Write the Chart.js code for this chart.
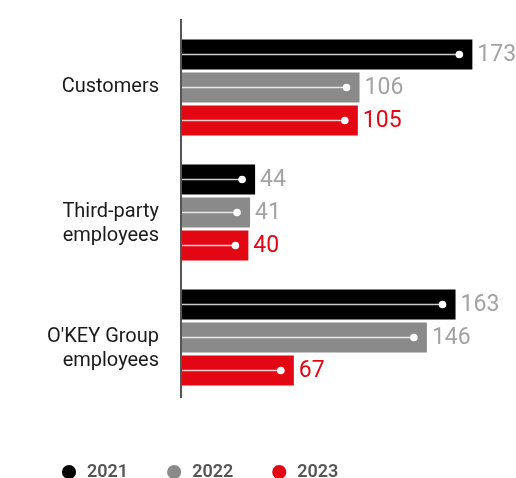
<!DOCTYPE html>
<html>
<head>
<meta charset="utf-8">
<script src="https://cdn.jsdelivr.net/npm/chart.js@4/dist/chart.umd.min.js"></script>
<style>
  html, body { margin: 0; padding: 0; background: #fff; }
  #wrap { width: 516px; height: 478px; }
</style>
</head>
<body>
<div id="wrap"><canvas id="barChart"></canvas></div>
<script>
const groups = [["Customers", ""], ["Third-party", "employees"], ["O'KEY Group", "employees"]];
const years = ["2021", "2022", "2023"];
const values2021 = [173, 44, 163];
const values2022 = [106, 41, 146];
const values2023 = [105, 40, 67];

const barColors = ["#000000", "#8a8a8a", "#e30613"];
const labelColors = ["#a3a3a3", "#a3a3a3", "#e30613"];

// white rule with a dot inside each bar, the value to the right, and the axis line on top
const barDecor = {
  id: "barDecor",
  afterDatasetsDraw(chart) {
    const ctx = chart.ctx;
    const area = chart.chartArea;
    ctx.save();
    chart.data.datasets.forEach((ds, i) => {
      const meta = chart.getDatasetMeta(i);
      meta.data.forEach((bar, j) => {
        const dotX = bar.x - 13;
        ctx.strokeStyle = "rgba(255,255,255,0.8)";
        ctx.lineWidth = 1.5;
        ctx.beginPath();
        ctx.moveTo(bar.base, bar.y);
        ctx.lineTo(dotX, bar.y);
        ctx.stroke();
        ctx.fillStyle = "#ffffff";
        ctx.beginPath();
        ctx.arc(dotX, bar.y, 3.8, 0, Math.PI * 2);
        ctx.fill();

        ctx.fillStyle = labelColors[i];
        ctx.font = "400 23px Roboto";
        ctx.textAlign = "left";
        ctx.textBaseline = "middle";
        ctx.fillText(ds.data[j], bar.x + 5, bar.y + 1);
      });
    });

    ctx.strokeStyle = "#555555";
    ctx.lineWidth = 2;
    ctx.beginPath();
    ctx.moveTo(area.left, area.top - 6);
    ctx.lineTo(area.left, area.bottom - 2);
    ctx.stroke();
    ctx.restore();
  }
};

// keep the legend short so its row sits near the bottom edge
const legendHeight = {
  id: "legendHeight",
  beforeInit(chart) {
    const fit = chart.legend.fit;
    chart.legend.fit = function () {
      fit.call(this);
      this.height = 52;
    };
  }
};

Chart.defaults.font.family = "Roboto";

const ctx = document.getElementById("barChart").getContext("2d");
new Chart(ctx, {
  type: "bar",
  data: {
    labels: groups,
    datasets: [
      { label: years[0], data: values2021, backgroundColor: barColors[0] },
      { label: years[1], data: values2022, backgroundColor: barColors[1] },
      { label: years[2], data: values2023, backgroundColor: barColors[2] }
    ]
  },
  options: {
    indexAxis: "y",
    responsive: true,
    maintainAspectRatio: false,
    animation: false,
    categoryPercentage: 0.792,
    barPercentage: 0.909,
    layout: {
      padding: { top: 25, left: 23, right: 15, bottom: 0 }
    },
    plugins: {
      tooltip: { enabled: false },
      legend: {
        position: "bottom",
        align: "start",
        labels: {
          usePointStyle: true,
          pointStyle: "circle",
          boxHeight: 10,
          padding: 37,
          color: "#555555",
          font: { size: 18, weight: "600" }
        }
      }
    },
    scales: {
      x: {
        min: 0,
        max: 190,
        ticks: { display: false },
        grid: { display: false, drawTicks: false },
        border: { display: false },
        afterFit(scale) { scale.height = 26; }
      },
      y: {
        grid: { display: false, drawTicks: false },
        border: { display: false },
        ticks: {
          padding: 22,
          labelOffset: 11,
          color: "#1a1a1a",
          font: { size: 20, lineHeight: 1.2 }
        },
        afterFit(scale) {
          scale.width = 158;
          scale.paddingTop = 0;
          scale.paddingBottom = 0;
        }
      }
    }
  },
  plugins: [barDecor, legendHeight]
});
</script>
</body>
</html>
